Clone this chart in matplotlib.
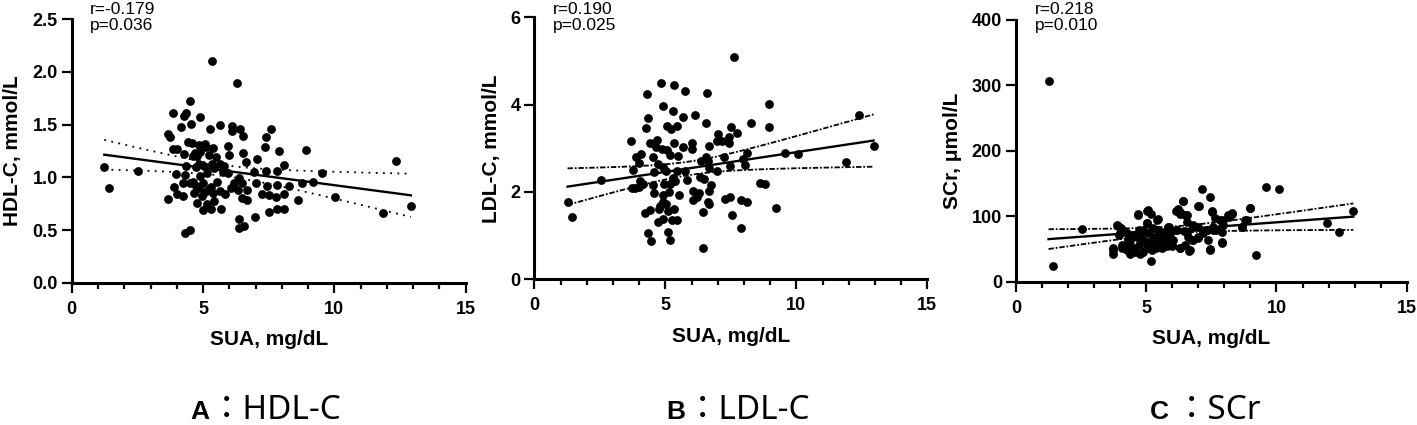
import numpy as np
import matplotlib
matplotlib.use('Agg')
import matplotlib.pyplot as plt
from matplotlib.ticker import MultipleLocator

plt.rcParams['font.family'] = ['Liberation Sans', 'DejaVu Sans']

# panel A: SUA vs HDL-C
sua_a = [1.24, 1.41, 2.51, 5.36, 6.29, 4.52, 3.87, 4.29, 4.37, 4.90, 4.17, 4.54, 5.27, 5.65,
         6.12, 6.12, 6.41, 7.60, 3.65, 3.73, 4.44, 4.58, 4.86, 5.06, 5.13, 5.96, 6.53, 7.41,
         7.37, 7.91, 8.92, 3.85, 4.01, 4.29, 4.71, 4.78, 5.21, 5.51, 5.98, 6.53, 7.06, 6.64,
         8.10, 4.86, 5.04, 4.37, 5.33, 5.43, 4.32, 3.96, 5.76, 6.36, 6.47, 6.93, 7.40, 7.83,
         9.53, 7.01, 7.43, 7.80, 8.26, 8.77, 9.19, 3.88, 4.23, 4.50, 4.72, 5.00, 5.24, 5.66,
         6.05, 6.32, 6.68, 4.00, 4.23, 4.67, 4.95, 5.39, 5.82, 6.48, 7.25, 7.50, 7.76, 8.08,
         3.68, 4.77, 5.14, 5.29, 4.99, 5.68, 5.43, 6.66, 8.60, 10.04, 7.50, 7.82, 8.10, 6.99,
         6.36, 6.37, 6.57, 4.33, 4.49, 11.87, 12.35, 12.91, 4.73, 4.89, 5.14, 4.61, 4.86, 5.08,
         5.31, 5.52, 5.65, 5.94, 6.16, 4.89, 4.63, 5.39, 5.80]
hdl = [1.095, 0.90, 1.06, 2.10, 1.90, 1.72, 1.61, 1.585, 1.61, 1.57, 1.48, 1.51, 1.46, 1.50,
       1.49, 1.44, 1.46, 1.46, 1.41, 1.38, 1.34, 1.33, 1.31, 1.32, 1.29, 1.30, 1.39, 1.38,
       1.29, 1.25, 1.26, 1.27, 1.27, 1.22, 1.23, 1.20, 1.21, 1.19, 1.21, 1.23, 1.17, 1.15,
       1.12, 1.13, 1.11, 1.11, 1.13, 1.085, 1.02, 1.03, 1.05, 0.99, 0.95, 1.05, 1.06, 1.06,
       1.04, 0.95, 0.92, 0.93, 0.92, 0.95, 0.955, 0.91, 0.95, 0.95, 0.915, 0.95, 0.89, 0.87,
       0.90, 0.88, 0.88, 0.84, 0.82, 0.85, 0.82, 0.85, 0.84, 0.80, 0.84, 0.83, 0.81, 0.84,
       0.79, 0.76, 0.75, 0.70, 0.69, 0.70, 0.78, 0.785, 0.785, 0.81, 0.67, 0.70, 0.70, 0.62,
       0.60, 0.52, 0.54, 0.47, 0.50, 0.66, 1.155, 0.73, 1.10, 1.01, 1.04, 0.96, 0.90, 0.86,
       0.91, 0.96, 1.13, 1.04, 0.95, 1.24, 1.20, 1.28, 1.11]

# panel B: SUA vs LDL-C
sua_b = [1.27, 1.45, 2.54, 7.63, 4.83, 5.33, 5.76, 6.58, 4.31, 4.92, 5.28, 5.69, 6.15, 4.33,
         8.96, 12.38, 5.05, 5.20, 5.46, 6.54, 4.26, 7.49, 8.29, 8.97, 7.02, 7.75, 7.42, 6.98,
         7.16, 7.45, 3.69, 4.41, 4.68, 5.35, 5.69, 6.03, 6.68, 6.01, 4.63, 4.86, 5.08, 5.19,
         5.48, 3.90, 4.06, 4.54, 6.56, 7.25, 6.37, 6.63, 7.95, 8.12, 9.58, 10.08, 12.95, 11.91,
         8.05, 7.47, 3.98, 4.72, 4.90, 5.02, 4.57, 3.78, 5.46, 5.76, 6.66, 6.99, 5.28, 5.84,
         5.38, 6.32, 6.47, 4.02, 4.16, 3.71, 3.85, 3.99, 4.52, 4.96, 5.19, 6.76, 8.61, 8.80,
         4.58, 4.90, 5.15, 5.51, 6.07, 6.28, 6.68, 6.04, 6.20, 7.28, 7.48, 7.88, 8.13, 4.90,
         4.81, 5.02, 6.62, 6.66, 4.41, 4.22, 4.76, 5.10, 5.33, 9.21, 6.42, 7.54, 4.71, 5.27,
         5.46, 4.91, 7.88, 4.33, 5.10, 4.44, 5.19, 6.42]
ldl = [1.78, 1.42, 2.27, 5.08, 4.50, 4.44, 4.32, 4.26, 4.24, 3.97, 3.85, 3.71, 3.76, 3.69,
       4.02, 3.77, 3.52, 3.44, 3.52, 3.57, 3.46, 3.48, 3.59, 3.48, 3.33, 3.34, 3.27, 3.16,
       3.17, 3.11, 3.17, 3.13, 3.19, 3.13, 3.04, 3.13, 3.06, 2.98, 3.02, 2.98, 2.96, 2.85,
       2.83, 2.81, 2.87, 2.81, 2.81, 2.81, 2.71, 2.71, 2.75, 2.90, 2.89, 2.86, 3.06, 2.69,
       2.62, 2.60, 2.66, 2.63, 2.58, 2.47, 2.45, 2.50, 2.47, 2.48, 2.54, 2.47, 2.33, 2.27,
       2.24, 2.35, 2.30, 2.24, 2.18, 2.08, 2.08, 2.12, 2.16, 2.18, 2.18, 2.15, 2.20, 2.18,
       1.97, 1.92, 1.99, 1.92, 2.02, 1.97, 2.02, 1.82, 1.89, 1.84, 1.88, 1.82, 1.78, 1.77,
       1.69, 1.73, 1.77, 1.73, 1.59, 1.51, 1.60, 1.57, 1.60, 1.63, 1.53, 1.47, 1.31, 1.36,
       1.36, 1.37, 1.18, 1.07, 1.08, 0.88, 0.90, 0.71]

# panel C: SUA vs SCr
sua_c = [1.25, 1.43, 2.53, 12.95, 11.93, 12.42, 9.59, 10.09, 9.22, 8.97, 7.13, 7.45, 7.03,
         6.42, 6.14, 6.28, 6.55, 7.54, 4.67, 5.02, 5.17, 5.44, 4.72, 5.02, 5.27, 5.46, 5.86,
         6.13, 6.46, 7.00, 7.32, 7.65, 7.95, 8.17, 8.31, 8.67, 8.79, 7.91, 7.56, 7.19, 7.00,
         3.87, 4.02, 3.97, 3.71, 3.71, 4.07, 4.38, 4.29, 4.51, 4.74, 4.76, 4.89, 5.02, 5.18,
         5.27, 5.38, 5.53, 5.72, 5.79, 6.00, 6.30, 6.49, 6.66, 6.75, 7.45, 7.90, 4.25, 4.63,
         5.08, 5.60, 6.04, 6.81, 5.91, 4.44, 4.76, 5.27, 6.81, 6.62, 7.39, 7.67, 5.60, 4.89,
         3.93, 3.99, 3.74, 4.70, 5.08, 5.40, 5.02, 5.85, 6.30, 6.43, 7.00, 7.52, 8.15, 8.28,
         7.83, 8.99, 8.86, 8.67, 7.90, 7.45, 7.00, 6.68, 6.30, 5.98, 5.53, 5.21, 4.89, 4.57,
         4.25, 4.06, 4.38, 4.76, 5.40, 5.79, 6.17, 6.56, 6.81, 7.32, 7.58, 7.96, 6.49, 6.23,
         6.56, 5.66, 4.51, 5.02, 5.79, 4.38]
scr = [306, 24.5, 80, 108, 89, 76, 145, 142, 41, 112, 142, 129, 115, 124, 108, 104, 102,
       108, 102, 108, 104, 96, 79, 89, 82, 79, 84, 79, 78, 84, 79, 97, 94, 99, 104, 83, 95,
       76, 79, 74, 67, 86, 82, 71, 51, 43, 51, 43, 64, 71, 56, 43, 64, 51, 31, 59, 51, 64,
       71, 54, 54, 51, 56, 47, 63, 49, 59, 74, 69, 74, 74, 64, 84, 74, 51, 74, 69, 64, 69,
       64, 79, 51, 79,
       85, 74, 48, 103, 110, 95, 89, 84, 107, 123, 115, 107, 102, 105,
       94, 113, 94, 84, 60, 50, 69, 48, 51, 56, 53, 48, 46, 46,
       48, 56, 64, 71, 69, 66, 79, 76, 87, 79, 84, 87, 102, 111,
       92, 76, 71, 61, 61, 56]

panels = [
    (sua_a, hdl, 'HDL-C, mmol/L', (0, 2.5), 0.5, 'r=-0.179\np=0.036', 'A', 'HDL-C', (0, (1, 3))),
    (sua_b, ldl, 'LDL-C, mmol/L', (0, 6), 2, 'r=0.190\np=0.025', 'B', 'LDL-C', (0, (3, 1, 1, 1))),
    (sua_c, scr, 'SCr, \u03bcmol/L', (0, 400), 100, 'r=0.218\np=0.010', 'C', 'SCr', (0, (3, 1, 1, 1))),
]
W, H = 1417, 425
# axes boxes in pixels: left, top, right, bottom
boxes = [(71.7, 19.3, 465.7, 282.7), (534.3, 17.3, 927.3, 279.3), (1016, 20, 1406.7, 281.7)]
ylabel_x = [22, 501, 962]
stat_x = [90, 553, 1035]
# caption pieces: letter left, "：name" left
caption_x = [(190, 210), (666, 686), (1150, 1175)]


def fit_with_ci(x, y):
    x = np.asarray(x)
    y = np.asarray(y)
    n = len(x)
    slope, icpt = np.polyfit(x, y, 1)
    xs = np.linspace(x.min(), x.max(), 100)
    resid = y - (slope * x + icpt)
    s = np.sqrt(np.sum(resid ** 2) / (n - 2))
    se = s * np.sqrt(1 / n + (xs - x.mean()) ** 2 / np.sum((x - x.mean()) ** 2))
    yfit = slope * xs + icpt
    return xs, yfit, yfit - 1.98 * se, yfit + 1.98 * se


fig = plt.figure(figsize=(W / 100, H / 100), dpi=100)

for i, (x, y, ylab, ylim, ystep, stat, letter, name, ci_style) in enumerate(panels):
    l, t, r, b = boxes[i]
    ax = fig.add_axes([l / W, 1 - b / H, (r - l) / W, (b - t) / H])
    ax.scatter(x, y, s=40, color='black', zorder=3, linewidths=0)
    xs, yfit, lo, hi = fit_with_ci(x, y)
    ax.plot(xs, yfit, color='black', lw=1.7)
    ax.plot(xs, lo, color='black', lw=1.3, linestyle=ci_style)
    ax.plot(xs, hi, color='black', lw=1.3, linestyle=ci_style)

    ax.set_xlim(0, 15)
    ax.set_ylim(*ylim)
    ax.xaxis.set_major_locator(MultipleLocator(5))
    ax.xaxis.set_minor_locator(MultipleLocator(1))
    ax.yaxis.set_major_locator(MultipleLocator(ystep))
    ax.spines[['top', 'right']].set_visible(False)
    for sp in ['left', 'bottom']:
        ax.spines[sp].set_linewidth(2.2)
    ax.tick_params(which='major', length=7, width=1.6, labelsize=13)
    ax.tick_params(axis='x', which='major', pad=6)
    ax.tick_params(axis='y', which='major', pad=3)
    ax.tick_params(which='minor', length=4.5, width=1.6)
    for lab in ax.get_xticklabels() + ax.get_yticklabels():
        lab.set_fontweight('bold')
    ax.set_ylabel(ylab, fontsize=15, fontweight='bold')
    ax.yaxis.set_label_coords((ylabel_x[i] - l) / (r - l), 0.5)
    ax.set_xlabel('SUA, mg/dL', fontsize=15, fontweight='bold', labelpad=9)
    fig.text(stat_x[i] / W, 1 - 1.5 / H, stat, fontsize=12.5, va='top', ha='left',
             linespacing=1.1)

    lx, nx = caption_x[i]
    fig.text(lx / W, 6 / H, letter, fontsize=19, fontweight='bold', ha='left',
             va='baseline')
    fig.text(nx / W, 6 / H, '\uff1a' + name, fontsize=24, ha='left', va='baseline',
             family=['Noto Sans', 'Noto Sans CJK JP', 'DejaVu Sans'])

fig.savefig('out.png', dpi=100)
